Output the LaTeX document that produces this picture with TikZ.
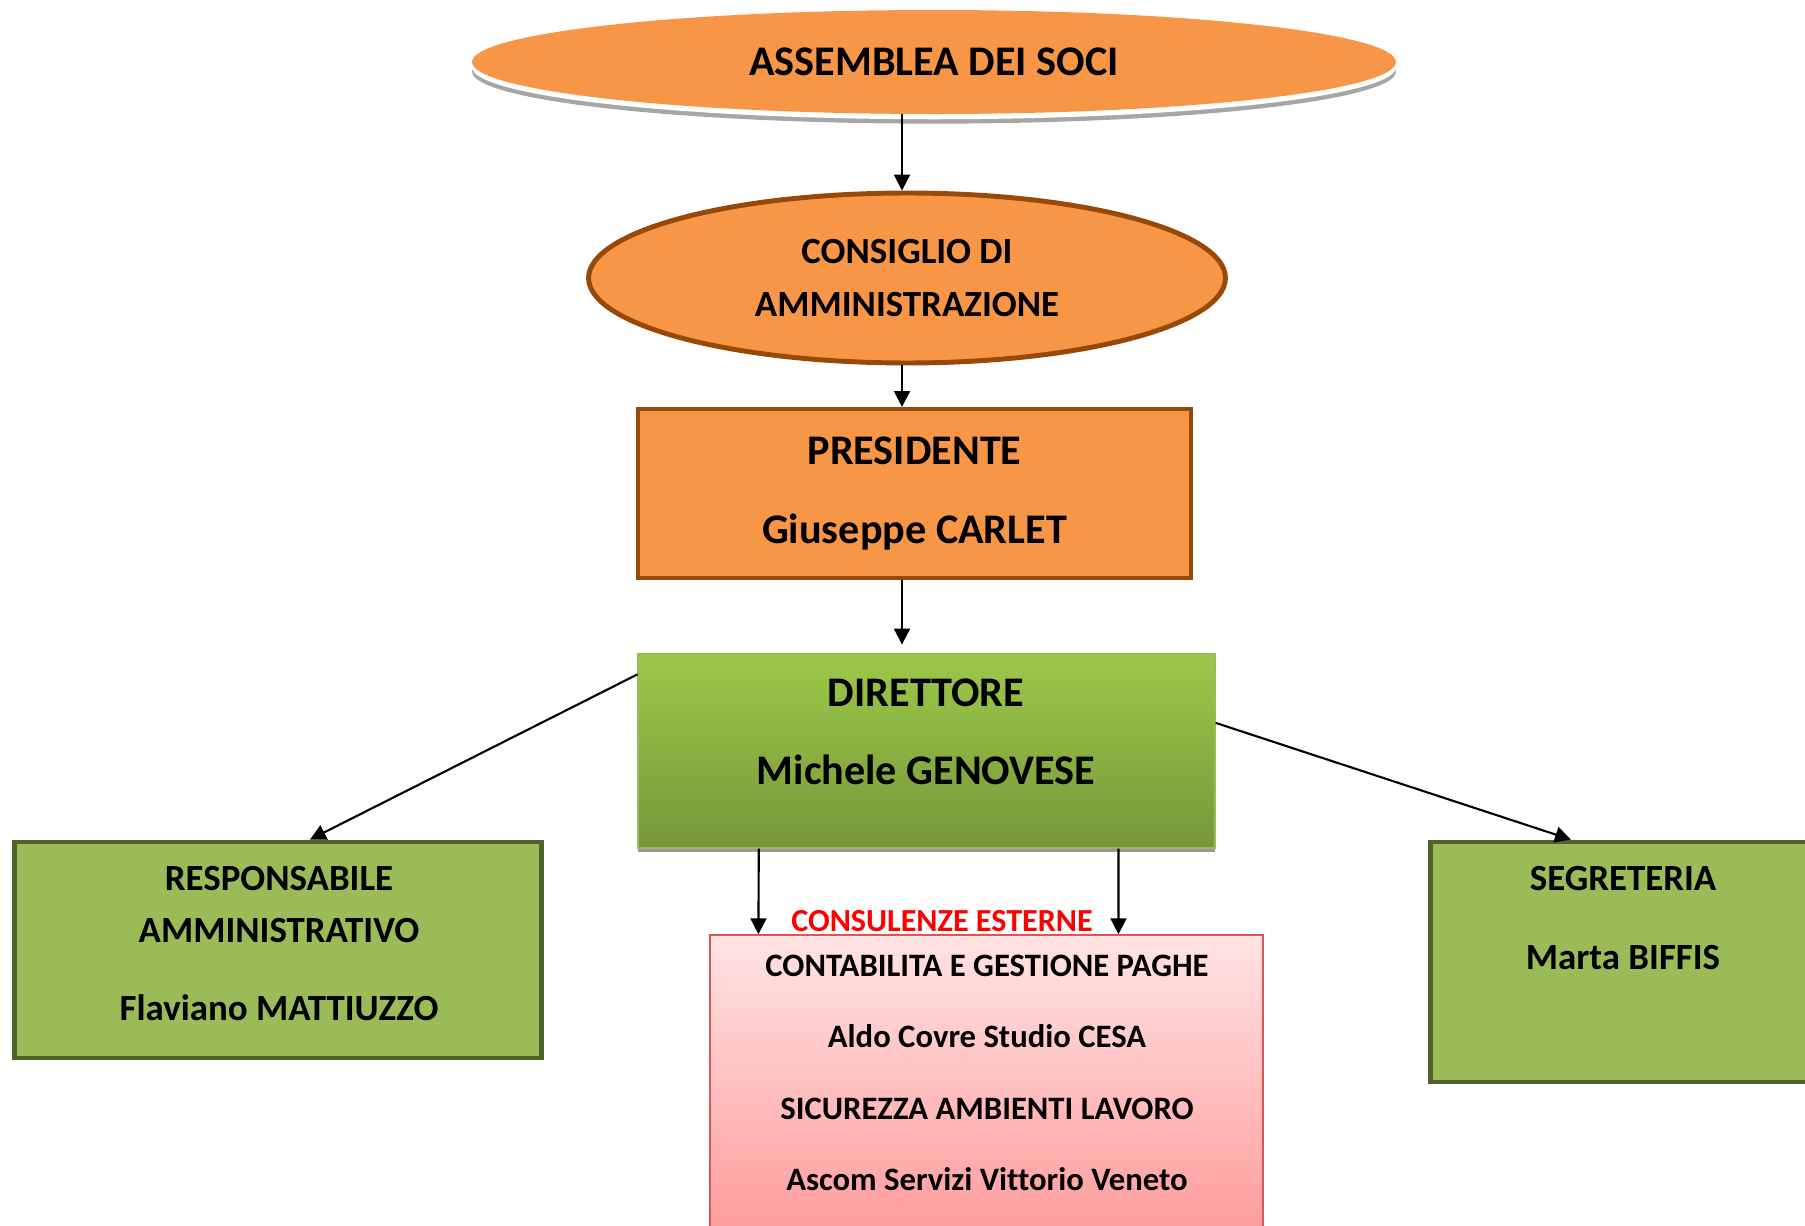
\documentclass[tikz,border=0pt]{standalone}
\usepackage{fontspec}
\setmainfont{Carlito}[Ligatures=NoCommon]
\usetikzlibrary{shapes.geometric,arrows.meta,calc,shadows}

\definecolor{orangefill}{HTML}{F79646}
\definecolor{brownline}{HTML}{984807}
\definecolor{greenfill}{HTML}{9BBB59}
\definecolor{greenline}{HTML}{4F6228}
\definecolor{dirtop}{HTML}{9DC84A}
\definecolor{dirbottom}{HTML}{77973A}
\definecolor{pinktop}{HTML}{FFE4E4}
\definecolor{pinkbottom}{HTML}{FF9A9A}
\definecolor{pinkline}{HTML}{D9575A}
\newcommand\fsz[2]{\fontsize{#1}{#2}\selectfont}

\begin{document}
\begin{tikzpicture}[x=0.02cm,y=-0.02cm,>={Triangle[length=9pt,width=9pt]},
  every node/.style={font=\bfseries,align=center,inner sep=0pt},
  orangebox/.style={draw=brownline,fill=orangefill,line width=2.3pt},
  greenbox/.style={draw=greenline,fill=greenfill,line width=2.8pt},
  conn/.style={->,line width=1.2pt}]

\useasboundingbox (0,0) rectangle (1805,1226);
\clip (0,0) rectangle (1805,1226);

% vertical line of command
\coordinate (axis) at (902,0);

\node[ellipse,fill=orangefill,minimum width=18.48cm,minimum height=2.08cm,font=\bfseries\fsz{24}{28},
  general shadow={fill=gray!70,shadow yshift=-5.5pt},
  general shadow={fill=white,shadow yshift=-3pt}] (ass) at (934,62) {ASSEMBLEA DEI SOCI};

\node[ellipse,orangebox,line width=2.8pt,minimum width=12.74cm,minimum height=3.4cm,
  font=\bfseries\fsz{21}{30}] (cda) at (907,278) {CONSIGLIO DI\\AMMINISTRAZIONE};

\node[orangebox,minimum width=11.06cm,minimum height=3.38cm,font=\bfseries\fsz{24}{44.6}] (pres) at (914.5,493.5)
  {PRESIDENTE\\Giuseppe CARLET};

\node[draw=greenfill,line width=0.8pt,top color=dirtop,bottom color=dirbottom,
  minimum width=11.54cm,minimum height=3.88cm,
  drop shadow={shadow xshift=0pt,shadow yshift=-2.5pt,fill=gray!80,opacity=1}] (dir) at (926.5,751) {};
\node[font=\bfseries\fsz{24}{44.6}] (dirT) at (926,732) {DIRETTORE\\Michele GENOVESE};

\node[greenbox,minimum width=10.56cm,minimum height=4.32cm] (resp) at (278,950) {};
\node[font=\bfseries\fsz{21}{29.5}] (respT) at (279,944) {RESPONSABILE\\AMMINISTRATIVO\\[15pt]Flaviano MATTIUZZO};

\node[greenbox,minimum width=7.8cm,minimum height=4.8cm] (segr) at (1625,962) {};
\node[font=\bfseries\fsz{21}{45}] (segrT) at (1623,918) {SEGRETERIA\\Marta BIFFIS};

% external consultants
\node[draw=pinkline,line width=0.9pt,top color=pinktop,bottom color=pinkbottom,
  minimum width=11.06cm,minimum height=6.1cm] (cons) at (986.5,1087.5) {};
\node[font=\bfseries\fsz{18.6}{40.6}] (consT) at (987,1073) {CONTABILITA E GESTIONE PAGHE\\Aldo Covre Studio CESA\\SICUREZZA AMBIENTI LAVORO\\Ascom Servizi Vittorio Veneto};
\node[text=red,font=\bfseries\fsz{18.3}{22}] (consH) at (942,921) {CONSULENZE ESTERNE};

\draw[conn] (ass.south -| axis) -- (cda.north -| axis);
\draw[conn] (cda.south -| axis) -- (pres.north -| axis);
\draw[conn,shorten >=5pt] (pres.south -| axis) -- (dir.north -| axis);

\draw[conn] ($(dir.north west)!0.108!(dir.south west)$) -- ($(resp.north west)!0.56!(resp.north east)$);
\draw[conn] ($(dir.north east)!0.356!(dir.south east)$) -- ($(segr.north west)!0.363!(segr.north east)$);

\draw[conn] ($(dir.south west)!0.21!(dir.south east)$) -- ($(cons.north west)!0.0886!(cons.north east)$);
\draw[conn] ($(dir.south west)!0.832!(dir.south east)$) -- ($(cons.north west)!0.738!(cons.north east)$);
\end{tikzpicture}
\end{document}
